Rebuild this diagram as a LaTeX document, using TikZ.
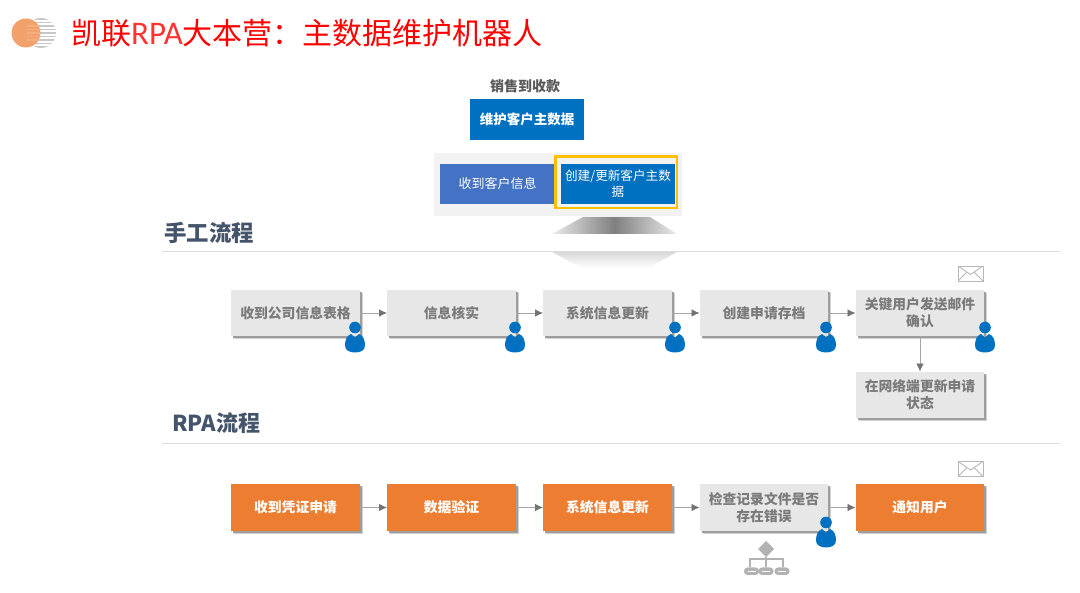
\documentclass[tikz,border=0pt]{standalone}
\usepackage{fontspec}
\setmainfont{Noto Sans CJK SC}
\newfontfamily\latinthin{Carlito}
\usetikzlibrary{arrows.meta,shadows,calc}
\definecolor{brandblue}{HTML}{0070C0}
\definecolor{softblue}{HTML}{4472C4}
\definecolor{brandorange}{HTML}{ED7D31}
\definecolor{boxgray}{HTML}{E7E7E7}
\definecolor{textgray}{HTML}{7A7A7A}
\definecolor{slate}{HTML}{44546A}
\definecolor{framegold}{HTML}{FFC000}
\tikzset{
  x=1pt,y=-1pt,
  stepbox/.style={minimum width=128.5pt,minimum height=46.5pt,inner sep=1pt,align=center,text width=124pt,
    font=\fontsize{13.8}{17}\selectfont\bfseries,
    general shadow={shadow xshift=3pt,shadow yshift=-3pt,fill=black!18},
    general shadow={shadow xshift=2pt,shadow yshift=-2pt,fill=black!38}},
  graybox/.style={stepbox,fill=boxgray,text=textgray},
  orangebox/.style={stepbox,fill=brandorange,text=white},
  flow/.style={draw=black!35,line width=0.8pt,-{Latex[length=8pt,width=7.5pt,color=black!55]}},
  heading/.style={font=\fontsize{22.4}{26}\selectfont\bfseries,text=slate,inner sep=0pt},
  rulerline/.style={draw=black!13,line width=0.8pt},
  topbox/.style={minimum width=114.5pt,minimum height=40.5pt,inner sep=1pt,align=center,text=white,
    text width=112pt,font=\fontsize{13}{16}\selectfont},
  pics/personicon/.style={code={
    \fill[brandblue] (0,0) circle (5.8);
    \fill[brandblue] (-4,6.5) -- (0,10) -- (4,6.5) .. controls (8,8) and (10,12) .. (10,18)
      .. controls (10,23) and (5,25) .. (0,25) .. controls (-5,25) and (-10,23) .. (-10,18)
      .. controls (-10,12) and (-8,8) .. (-4,6.5) -- cycle;
  }},
  pics/mailicon/.style={code={
    \draw[black!28,line width=0.9pt,fill=white] (0,0) rectangle (25,15);
    \draw[black!28,line width=0.9pt] (0,0) -- (12.5,8.5) -- (25,0) (0,15) -- (9,6) (25,15) -- (16,6);
  }},
}
\begin{document}
\begin{tikzpicture}
\useasboundingbox[fill=white] (0,0) rectangle (1080,593);

% logo
\begin{scope}
  \clip (41,33) circle (15);
  \foreach \yy in {19,22.5,...,47} \draw[black!22,line width=1.6pt] (25,\yy) -- (56,\yy);
\end{scope}
\fill[brandorange!72!white] (26,33) circle (14.5);
\begin{scope}
  \clip (26,33) circle (14.5);
  \foreach \yy in {26,29.5,...,41} \draw[white,opacity=.14,line width=1.4pt] (27,\yy) -- (41,\yy);
\end{scope}

% title
\node[anchor=west,inner sep=0pt,text=red,font=\fontsize{30}{34}\selectfont] (title) at (71,33)
  {凯联{\latinthin\fontsize{33}{34}\selectfont\color{red!80!white}RPA}大本营：主数据维护机器人};

% top block
\node[font=\fontsize{14}{16}\selectfont\bfseries,text=black!65,inner sep=0pt] (sales) at (525,86) {销售到收款};
\node[topbox,fill=brandblue,font=\fontsize{13.5}{17}\selectfont\bfseries] (master) at (527,119.5) {维护客户主数据};
\fill[black!5] (434,153) rectangle (682,216);
\node[topbox,fill=softblue] (receive) at (497.5,184) {收到客户信息};
\node[topbox,fill=brandblue,font=\fontsize{12.6}{16}\selectfont] (create) at (618,184) {创建/更新客户主数\\据};
\draw[color=framegold,line width=2.6pt] (555.5,156.5) rectangle (677,208);

% projection trapezoid and reflection
\begin{scope}
  \clip (583,217) -- (650,217) -- (677,234) -- (552,234) -- cycle;
  \shade[left color=black!8,right color=black!8,middle color=black!50] (552,217) rectangle (677,234);
\end{scope}
\begin{scope}
  \clip (552,252) -- (677,252) -- (648,268) -- (582,268) -- cycle;
  \shade[top color=black!15,bottom color=white] (552,252) rectangle (677,268);
\end{scope}
\draw[rulerline] (162,251) coordinate (r1a) -- (1060,251) coordinate (r1b);

% headings
\node[heading,anchor=west] (manual) at (164,233) {手工流程};
\node[heading,anchor=west,font=\fontsize{22}{26}\selectfont\bfseries] (rpa) at (172,423) {RPA流程};
\draw[rulerline] (162,443) coordinate (r2a) -- (1060,443) coordinate (r2b);

% manual row
\node[graybox] (m1) at (295.5,313) {收到公司信息表格};
\node[graybox] (m2) at (451.5,313) {信息核实};
\node[graybox] (m3) at (607.5,313) {系统信息更新};
\node[graybox] (m4) at (764,313) {创建申请存档};
\node[graybox] (m5) at (920,313) {关键用户发送邮件\\确认};
\node[graybox] (m6) at (920,395) {在网络端更新申请\\状态};
\draw[flow] (m1) -- (m2);
\draw[flow] (m2) -- (m3);
\draw[flow] (m3) -- (m4);
\draw[flow] (m4) -- (m5);
\draw[flow] (m5) -- (m6);

% rpa row
\node[orangebox] (r1) at (295.5,507.5) {收到凭证申请};
\node[orangebox] (r2) at (451.5,507.5) {数据验证};
\node[orangebox] (r3) at (607.5,507.5) {系统信息更新};
\node[graybox] (r4) at (764,507.5) {检查记录文件是否\\存在错误};
\node[orangebox] (r5) at (920,507.5) {通知用户};
\draw[flow] (r1) -- (r2);
\draw[flow] (r2) -- (r3);
\draw[flow] (r3) -- (r4);
\draw[flow] (r4) -- (r5);

% people
\pic at (355,327.5) {personicon};
\pic at (515,327.5) {personicon};
\pic at (675,327.5) {personicon};
\pic at (826,327.5) {personicon};
\pic at (985,327.5) {personicon};
\pic at (826,522.5) {personicon};

% mail
\pic at (958,266) {mailicon};
\pic at (958,461.5) {mailicon};

% hierarchy icon
\fill[black!30] (766,541) -- (774,549) -- (766,557) -- (758,549) -- cycle;
\draw[black!30,line width=1.6pt] (766,557) -- (766,567) (750,567) -- (750,559) -- (783,559) -- (783,567);
\foreach \xx in {751.5,766,782} {
  \fill[black!30,rounded corners=3.5pt] (\xx-7.5,567.5) rectangle (\xx+7.5,575);
  \draw[white,line width=.6pt] (\xx-4,571.2) -- (\xx+4,571.2);
}
\end{tikzpicture}
\end{document}
